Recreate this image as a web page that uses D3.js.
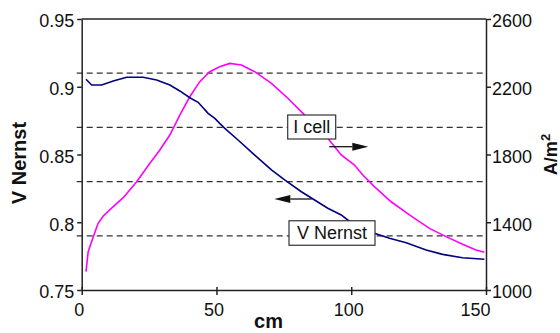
<!DOCTYPE html>
<html>
<head>
<meta charset="utf-8">
<script src="https://cdn.jsdelivr.net/npm/d3@7"></script>
<style>
    body { margin: 0; background: #fff; }
    svg { display: block; font-family: "Liberation Sans", Arial, sans-serif; }
    .axis path, .axis line { stroke: #222; stroke-width: 1.5; }
    .axis text { font-size: 18px; fill: #111; }
    .label { font-weight: bold; fill: #111; }
</style>
</head>
<body>
<div id="chart"></div>
<script>
    // V Nernst (left axis)
    var vDist = [1.6, 3.7, 7.4, 11.7, 16.7, 22.8, 27.8, 32.7, 36.4, 40.1, 43.2, 46.9, 49.4, 51.2, 53.1, 58.0, 64.2,
        70.4, 75.3, 81.5, 86.4, 91.3, 96.3, 98.7, 108.6, 114.2, 120.4, 127.8, 133.9, 141.3, 149.4];
    var vNernst = [0.9055, 0.9013, 0.9013, 0.9042, 0.9070, 0.9070, 0.9050, 0.9013, 0.8969, 0.8919, 0.8885, 0.8804, 0.8767,
        0.8730, 0.8693, 0.8607, 0.8496, 0.8386, 0.8312, 0.8225, 0.8164, 0.8103, 0.8054, 0.8017, 0.7918, 0.7882, 0.7849,
        0.7795, 0.7763, 0.7738, 0.7727];

    // I cell (right axis, A/m2)
    var iDist = [1.6, 2.4, 4.3, 6.1, 8.0, 11.7, 15.4, 20.4, 25.3, 29.0, 32.7, 36.4, 40.1, 43.8, 47.5, 51.2, 54.9, 59.3,
        64.2, 70.4, 76.5, 82.1, 91.3, 96.3, 101.2, 104.3, 108.6, 114.8, 121.6, 129.0, 135.2, 141.3, 146.3, 149.4];
    var iCell = [1108, 1226, 1315, 1394, 1437, 1492, 1545, 1639, 1748, 1827, 1915, 2033, 2141, 2230, 2289, 2318, 2338, 2328,
        2289, 2220, 2132, 2043, 1896, 1797, 1738, 1679, 1610, 1521, 1443, 1364, 1315, 1270, 1236, 1223];

    var xTicks = [0, 50, 100, 150];
    var vTicks = [0.75, 0.8, 0.85, 0.9, 0.95];
    var iTicks = [1000, 1400, 1800, 2200, 2600];
    var gridLevels = [0.79, 0.83, 0.87, 0.91];

    var width = 560, height = 333;
    var margin = { top: 19, right: 74, bottom: 43, left: 81.7 };
    var plotW = width - margin.left - margin.right,
        plotH = height - margin.top - margin.bottom;

    var xScale = d3.scaleLinear().domain([0, 150]).range([0, plotW]);
    var yLeft = d3.scaleLinear().domain([0.75, 0.95]).range([plotH, 0]);
    var yRight = d3.scaleLinear().domain([1000, 2600]).range([plotH, 0]);

    var svg = d3.select('#chart').append('svg')
        .attr('width', width)
        .attr('height', height);

    var g = svg.append('g').attr('transform', 'translate(' + margin.left + ',' + margin.top + ')');

    // dashed horizontal lines
    g.selectAll('.grid')
        .data(gridLevels)
        .enter()
        .append('line')
        .attr('class', 'grid')
        .attr('x1', -5)
        .attr('x2', plotW)
        .attr('y1', function (d) { return yLeft(d); })
        .attr('y2', function (d) { return yLeft(d); })
        .attr('stroke', '#333')
        .attr('stroke-width', 1.2)
        .attr('stroke-dasharray', '6,4');

    var vLine = d3.line()
        .x(function (d) { return xScale(d[0]); })
        .y(function (d) { return yLeft(d[1]); });

    var iLine = d3.line()
        .x(function (d) { return xScale(d[0]); })
        .y(function (d) { return yRight(d[1]); });

    g.append('path')
        .datum(d3.zip(iDist, iCell))
        .attr('fill', 'none')
        .attr('stroke', '#ff00ff')
        .attr('stroke-width', 1.6)
        .attr('d', iLine);

    g.append('path')
        .datum(d3.zip(vDist, vNernst))
        .attr('fill', 'none')
        .attr('stroke', '#000080')
        .attr('stroke-width', 1.6)
        .attr('d', vLine);

    // call-out boxes
    var drawBox = function (cx, cy, w, h, text) {
        svg.append('rect')
            .attr('x', cx - w / 2).attr('y', cy - h / 2)
            .attr('width', w).attr('height', h)
            .attr('fill', '#fff')
            .attr('stroke', '#333')
            .attr('stroke-width', 1.2);
        svg.append('text')
            .attr('x', cx).attr('y', cy)
            .attr('dy', '0.36em')
            .attr('text-anchor', 'middle')
            .style('font-size', '18px')
            .attr('fill', '#111')
            .text(text);
    };
    drawBox(311.7, 127, 48, 24, 'I cell');
    drawBox(332, 233, 86, 24.5, 'V Nernst');

    // arrows, the head sits at "tip"
    var drawArrow = function (tail, tip, y) {
        var dir = tip > tail ? 1 : -1;
        var headLen = 16, headHalf = 4;
        svg.append('line')
            .attr('x1', tail).attr('x2', tip - dir * headLen)
            .attr('y1', y).attr('y2', y)
            .attr('stroke', '#111')
            .attr('stroke-width', 1.3);
        svg.append('path')
            .attr('d', 'M' + tip + ',' + y +
                'L' + (tip - dir * headLen) + ',' + (y - headHalf) +
                'L' + (tip - dir * headLen) + ',' + (y + headHalf) + 'Z')
            .attr('fill', '#111');
    };
    drawArrow(329.3, 368.3, 146.7);
    drawArrow(311.7, 274.3, 199);

    // top frame
    g.append('line')
        .attr('x1', 0).attr('x2', plotW)
        .attr('y1', 0).attr('y2', 0)
        .attr('stroke', '#222')
        .attr('stroke-width', 1.5);

    // axes
    var fmtV = function (d) { return String(+d.toFixed(2)); };

    var leftAxis = g.append('g')
        .attr('class', 'axis')
        .call(d3.axisLeft(yLeft).tickValues(vTicks).tickFormat(fmtV).tickSize(4.5).tickSizeOuter(0).tickPadding(3));
    leftAxis.selectAll('text').attr('dy', '0.43em');

    var rightAxis = g.append('g')
        .attr('class', 'axis')
        .attr('transform', 'translate(' + plotW + ',0)')
        .call(d3.axisRight(yRight).tickValues(iTicks).tickFormat(d3.format('d')).tickSize(5).tickSizeOuter(0).tickPadding(1));
    rightAxis.selectAll('text').attr('dy', '0.43em');

    var bottomAxis = g.append('g')
        .attr('class', 'axis')
        .attr('transform', 'translate(0,' + plotH + ')')
        .call(d3.axisBottom(xScale).tickValues(xTicks).tickSize(5).tickSizeOuter(0).tickPadding(8));
    bottomAxis.selectAll('.tick line').attr('y1', -3);
    bottomAxis.selectAll('.tick text').attr('dx', -3);
    bottomAxis.selectAll('.tick text')
        .filter(function (d) { return d === 150; })
        .attr('text-anchor', 'end')
        .attr('dx', 4);

    // axis titles
    svg.append('text')
        .attr('class', 'label')
        .attr('transform', 'translate(26,163) rotate(-90)')
        .attr('text-anchor', 'middle')
        .style('font-size', '20px')
        .text('V Nernst');

    var aLabel = svg.append('text')
        .attr('class', 'label')
        .attr('transform', 'translate(557,154.5) rotate(-90)')
        .attr('text-anchor', 'middle')
        .style('font-size', '18px');
    aLabel.append('tspan').text('A/m');
    aLabel.append('tspan').attr('dy', '-0.55em').style('font-size', '13px').text('2');

    svg.append('text')
        .attr('class', 'label')
        .attr('x', 268.5)
        .attr('y', 328)
        .attr('text-anchor', 'middle')
        .style('font-size', '20px')
        .text('cm');
</script>
</body>
</html>
